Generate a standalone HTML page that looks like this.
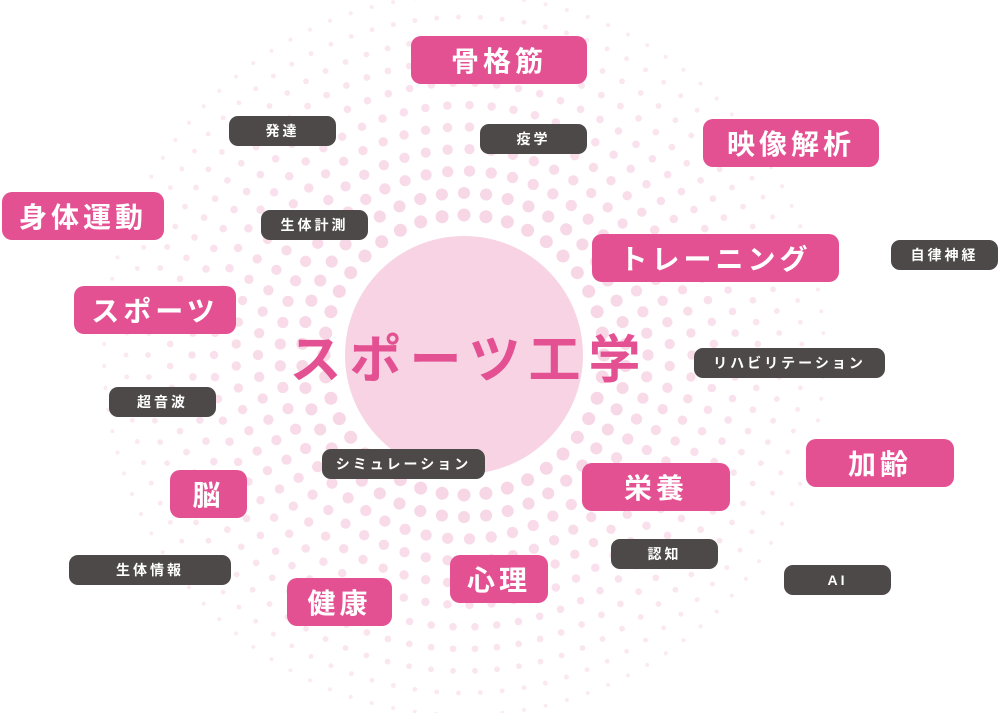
<!DOCTYPE html>
<html><head><meta charset="utf-8">
<style>
html,body{margin:0;padding:0;background:#fff;}
#wrap{position:relative;width:1000px;height:713px;overflow:hidden;font-family:"Liberation Sans","Noto Sans CJK JP",sans-serif;}
svg{position:absolute;left:0;top:0;}
.l{position:absolute;display:flex;align-items:center;justify-content:center;color:#fff;font-weight:bold;box-sizing:border-box;white-space:nowrap;}
.p{background:#e45193;border-radius:10px;font-size:28px;letter-spacing:4px;}
.d{background:#4d4948;border-radius:9px;font-size:14px;letter-spacing:3px;}
#title{position:absolute;left:270px;top:318px;width:390px;text-align:center;color:#e45193;font-size:52px;font-weight:bold;letter-spacing:8px;text-indent:8px;font-family:"Liberation Sans","Noto Sans CJK JP",sans-serif;}
</style></head><body>
<div id="wrap">
<svg id="dots" width="1000" height="713" viewBox="0 0 1000 713">
<circle cx="464" cy="355" r="119" fill="#f7d3e3"/>
</svg>
<div id="title">スポーツ工学</div>

<div class="l p" style="left:411px;top:36px;width:176px;height:48px;">骨格筋</div>
<div class="l d" style="left:229px;top:116px;width:107px;height:30px;">発達</div>
<div class="l d" style="left:480px;top:124px;width:107px;height:30px;">疫学</div>
<div class="l p" style="left:703px;top:119px;width:176px;height:48px;">映像解析</div>
<div class="l p" style="left:2px;top:192px;width:162px;height:48px;">身体運動</div>
<div class="l d" style="left:261px;top:210px;width:107px;height:30px;">生体計測</div>
<div class="l p" style="left:592px;top:234px;width:247px;height:48px;">トレーニング</div>
<div class="l d" style="left:891px;top:240px;width:107px;height:30px;">自律神経</div>
<div class="l p" style="left:74px;top:286px;width:162px;height:48px;">スポーツ</div>
<div class="l d" style="left:694px;top:348px;width:191px;height:30px;">リハビリテーション</div>
<div class="l d" style="left:109px;top:387px;width:107px;height:30px;">超音波</div>
<div class="l p" style="left:806px;top:439px;width:148px;height:48px;">加齢</div>
<div class="l d" style="left:322px;top:449px;width:163px;height:30px;">シミュレーション</div>
<div class="l p" style="left:582px;top:463px;width:148px;height:48px;">栄養</div>
<div class="l p" style="left:170px;top:470px;width:77px;height:48px;">脳</div>
<div class="l d" style="left:611px;top:539px;width:107px;height:30px;">認知</div>
<div class="l d" style="left:69px;top:555px;width:162px;height:30px;">生体情報</div>
<div class="l d" style="left:784px;top:565px;width:107px;height:30px;">AI</div>
<div class="l p" style="left:450px;top:555px;width:98px;height:48px;">心理</div>
<div class="l p" style="left:287px;top:578px;width:105px;height:48px;">健康</div>
</div>
<script>
(function(){
var s=document.getElementById('dots');
var cx=464,cy=355,html='';
var first=s.innerHTML;
for(var i=0;i<11;i++){
  var R=140+i*22;
  var rr=6.5-i*0.45;
  var op=1-i*0.05;
  var n=Math.round(2*Math.PI*R/22);
  var off=(i%2)*0.5;
  for(var k=0;k<n;k++){
    var a=(k+off)/n*2*Math.PI;
    var x=cx+R*Math.cos(a),y=cy+R*Math.sin(a);
    if(x<-10||x>1010||y<-10||y>723)continue;
    html+='<circle cx="'+x.toFixed(1)+'" cy="'+y.toFixed(1)+'" r="'+rr.toFixed(2)+'" fill="#f7d6e5" fill-opacity="'+op.toFixed(2)+'"/>';
  }
}
s.innerHTML=html+first;
})();
</script>
</body></html>
